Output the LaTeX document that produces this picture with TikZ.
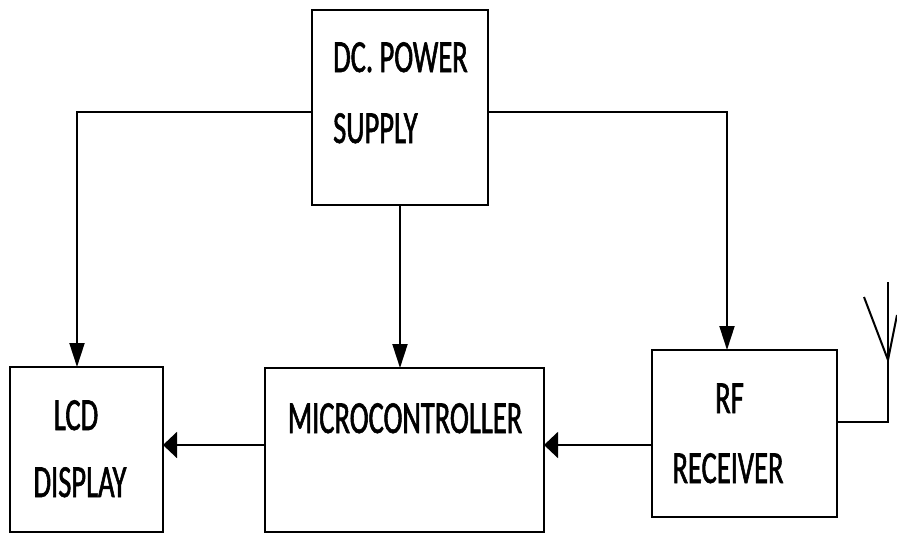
\documentclass[tikz,border=0pt]{standalone}
\usepackage{fontspec}
\newfontfamily\lab[FakeStretch=0.62,FakeBold=1.2]{Carlito}
\usetikzlibrary{arrows.meta}
\begin{document}
\begin{tikzpicture}[x=1pt,y=-1pt,
  box/.style={draw,line width=2pt,inner sep=0pt,outer sep=0pt},
  txt/.style={inner sep=0pt,font=\lab\fontsize{46}{50}\selectfont},
  varr/.style={line width=2pt,-{Triangle[length=24pt,width=15pt]}},
  harr/.style={line width=2pt,-{Triangle[length=14pt,width=26pt]}},
  wire/.style={line width=2pt}]
\useasboundingbox[fill=white] (0,0) rectangle (897,533);
% boxes
\node[box,minimum width=176pt,minimum height=195pt] (dc) at (400,107.5) {};
\node[box,minimum width=153pt,minimum height=165pt] (lcd) at (86.5,449.5) {};
\node[box,minimum width=279pt,minimum height=164pt] (mcu) at (404.5,450) {};
\node[box,minimum width=185pt,minimum height=167pt] (rf) at (744.5,433.5) {};
% texts
\node[txt,anchor=base west] (t1) at (333,72) {DC. POWER};
\node[txt,anchor=base west] (t2) at (333,143) {SUPPLY};
\node[txt,anchor=base] (t3) at (76,430) {LCD};
\node[txt,anchor=base] (t4) at (80,497) {DISPLAY};
\node[txt,anchor=base] (t5) at (405,433) {MICROCONTROLLER};
\node[txt,anchor=base] (t6) at (729.5,413) {RF};
\node[txt,anchor=base] (t7) at (728,483) {RECEIVER};
% connectors
\draw[varr] ([yshift=-4.5pt]dc.west) -| ([xshift=-9.5pt]lcd.north);
\draw[varr] ([yshift=-4.5pt]dc.east) -| ([xshift=-17.5pt]rf.north);
\draw[varr] (dc.south) -- (dc.south |- mcu.north);
\draw[harr] ([yshift=-11.5pt]rf.west) -- ([yshift=-11.5pt]rf.west -| mcu.east);
\draw[harr] ([yshift=5pt]mcu.west) -- ([yshift=5pt]mcu.west -| lcd.east);
% antenna
\coordinate (ant) at (888,360);
\coordinate (antTop) at (888,282);
\coordinate (antL) at (864,297);
\coordinate (antR) at (897,315);
\draw[wire] ([yshift=11.5pt]rf.east) -| (ant);
\draw[wire] (ant) -- (antTop);
\draw[wire] (ant) -- (antL);
\draw[wire] (ant) -- (antR);
\end{tikzpicture}
\end{document}
